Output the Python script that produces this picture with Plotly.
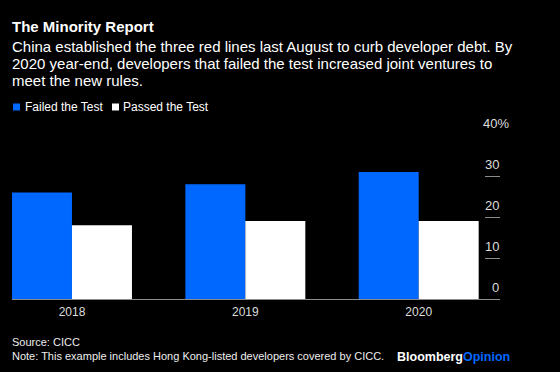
import plotly.graph_objects as go

years = ["2018", "2019", "2020"]
failed = [26, 28, 31]
passed = [18, 19, 19]
y_ticks = [0, 10, 20, 30, 40]
y_tick_labels = ["0", "10", "20", "30", "40%"]

BLUE = "#0068FF"
FONT = "Liberation Sans"
W, H = 560, 372
ML, MR, MT, MB = 12, 60, 135, 73
PH = H - MT - MB

def py(p):
    # pixel y (from top) -> paper y
    return (H - MB - p) / PH

def px(p):
    return (p - ML) / (W - ML - MR)

fig = go.Figure()
fig.add_trace(go.Bar(x=years, y=failed, name="Failed the Test", marker_color=BLUE,
                     marker_line_width=0))
fig.add_trace(go.Bar(x=years, y=passed, name="Passed the Test", marker_color="#FFFFFF",
                     marker_line_width=0))

ann = []
ann.append(dict(text="<b>The Minority Report</b>", x=px(10), y=py(26.5), xref="paper", yref="paper",
                xanchor="left", yanchor="middle", showarrow=False,
                font=dict(family=FONT, size=15, color="#FFFFFF")))
sub = ["China established the three red lines last August to curb developer debt. By",
       "2020 year-end, developers that failed the test increased joint ventures to",
       "meet the new rules."]
for i, s in enumerate(sub):
    ann.append(dict(text=s, x=px(10), y=py(46.5 + 17 * i), xref="paper", yref="paper",
                    xanchor="left", yanchor="middle", showarrow=False,
                    font=dict(family=FONT, size=15, color="#FFFFFF")))
# legend
ann.append(dict(text="Failed the Test", x=px(23), y=py(107), xref="paper", yref="paper",
                xanchor="left", yanchor="middle", showarrow=False,
                font=dict(family=FONT, size=12, color="#FFFFFF")))
ann.append(dict(text="Passed the Test", x=px(121), y=py(107), xref="paper", yref="paper",
                xanchor="left", yanchor="middle", showarrow=False,
                font=dict(family=FONT, size=12, color="#FFFFFF")))
# y tick labels
for v, t in zip(y_ticks, y_tick_labels):
    shift = 10 if t.endswith("%") else 0
    ann.append(dict(text=t, x=1, y=v, xref="paper", yref="y", xanchor="right", yanchor="middle",
                    yshift=12, xshift=shift + 1, showarrow=False,
                    font=dict(family=FONT, size=13, color="#DDDDDD")))
# footer
ann.append(dict(text="Source: CICC", x=px(10), y=py(342), xref="paper", yref="paper",
                xanchor="left", yanchor="middle", showarrow=False,
                font=dict(family=FONT, size=11, color="#EEEEEE")))
ann.append(dict(text="Note: This example includes Hong Kong-listed developers covered by CICC.",
                x=px(10), y=py(355.5), xref="paper", yref="paper",
                xanchor="left", yanchor="middle", showarrow=False,
                font=dict(family=FONT, size=11, color="#EEEEEE")))
ann.append(dict(text="<b>Bloomberg</b><b><span style='color:" + BLUE + "'>Opinion</span></b>",
                x=px(512), y=py(357), xref="paper", yref="paper",
                xanchor="right", yanchor="middle", showarrow=False,
                font=dict(family=FONT, size=12.5, color="#FFFFFF")))

shapes = [
    dict(type="rect", x0=px(13), x1=px(20), y0=py(103.5), y1=py(110.5), xref="paper", yref="paper",
         fillcolor=BLUE, line_width=0),
    dict(type="rect", x0=px(112), x1=px(119), y0=py(103.5), y1=py(110.5), xref="paper", yref="paper",
         fillcolor="#FFFFFF", line_width=0),
]

fig.update_layout(
    width=W, height=H,
    margin=dict(l=ML, r=MR, t=MT, b=MB, pad=0),
    paper_bgcolor="#000000", plot_bgcolor="#000000",
    barmode="group", bargap=0.308, bargroupgap=0,
    showlegend=False,
    annotations=ann, shapes=shapes,
    font=dict(family=FONT, color="#FFFFFF"),
    xaxis=dict(type="category", range=[-0.346, 2.469], showgrid=False, zeroline=False,
               showline=True, linecolor="#8C8C8C", linewidth=1, ticks="",
               tickfont=dict(family=FONT, size=12, color="#DDDDDD"), ticklabelstandoff=2),
    yaxis=dict(side="right", range=[0, 40], tickvals=y_ticks, showticklabels=False,
               ticks="inside", ticklen=15, tickcolor="#8C8C8C", tickwidth=1,
               showgrid=False, zeroline=False, showline=False),
)

fig.write_html("out.html", config={"displayModeBar": False},
               post_script="document.body.style.margin='0';document.body.style.background='#000';")
